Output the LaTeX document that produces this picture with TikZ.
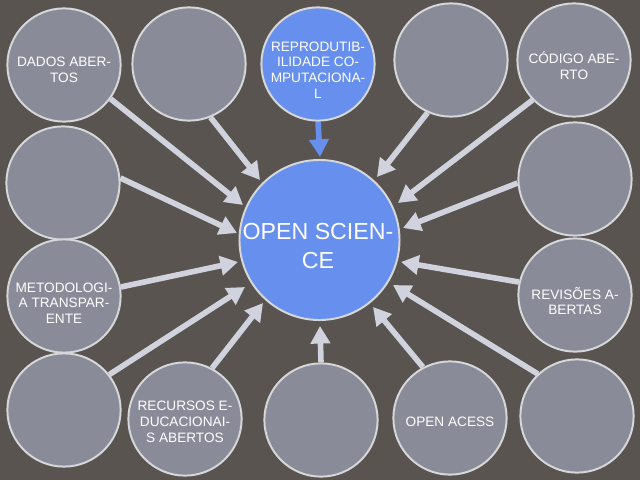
\documentclass[tikz,border=0pt]{standalone}
\usepackage{fontspec}
\setmainfont{Liberation Sans}
\usetikzlibrary{arrows.meta}
\pgfdeclarelayer{canvas}
\pgfdeclarelayer{back}
\pgfsetlayers{canvas,back,main}

\definecolor{bgc}{HTML}{5A5450}
\definecolor{discfill}{HTML}{8A8B99}
\definecolor{rim}{HTML}{D6D7D9}
\definecolor{sky}{HTML}{668FEE}
\definecolor{spoke}{HTML}{D0D3DE}

\begin{document}
\begin{tikzpicture}[x=0.025cm,y=-0.025cm,
  disc/.style={circle,draw=rim,line width=1.4pt,fill=discfill,minimum size=2.83cm,inner sep=0pt},
  hub/.style={disc,fill=sky,minimum size=4.0cm},
  lbl/.style={text=white,align=center,inner sep=0pt,font=\fontsize{9.7}{11.2}\selectfont},
  hublbl/.style={lbl,font=\fontsize{16.5}{20}\selectfont},
  feed/.style={draw=spoke,line width=4pt,-{Triangle[length=12.5pt,width=13.5pt]}},
  bluefeed/.style={feed,draw=sky,fill=sky}
]
  % canvas
  \begin{pgfonlayer}{canvas}
    \fill[bgc] (0,0) rectangle (640,480);
  \end{pgfonlayer}
  \useasboundingbox (0,0) rectangle (640,480);

  % central hub
  \node[hub] (hub) at (319.5,240) {};
  \node[hublbl] (hubT) at (318,246) {OPEN SCIEN-\\CE};

  % surrounding discs
  \node[disc] (dados) at (64,65) {};
  \node[disc] (topB) at (189,64) {};
  \node[disc,fill=sky] (repro) at (318,64) {};
  \node[disc] (topD) at (451,60) {};
  \node[disc] (codigo) at (574,60) {};
  \node[disc] (midL) at (63,183) {};
  \node[disc] (midR) at (575,179) {};
  \node[disc] (metodo) at (64,296) {};
  \node[disc] (revis) at (575,295) {};
  \node[disc] (lowL) at (64,410) {};
  \node[disc] (recursos) at (185,419) {};
  \node[disc] (lowM) at (321,420) {};
  \node[disc] (acess) at (450,418) {};
  \node[disc] (lowR) at (577,416) {};

  % disc captions
  \node[lbl] (dadosT) at (64,70) {DADOS ABER-\\TOS};
  \node[lbl] (reproT) at (318,70) {REPRODUTIB-\\ILIDADE CO-\\MPUTACIONA-\\L};
  \node[lbl] (codigoT) at (574,66) {CÓDIGO ABE-\\RTO};
  \node[lbl] (metodoT) at (64,303) {METODOLOGI-\\A TRANSPAR-\\ENTE};
  \node[lbl] (revisT) at (575,301) {REVISÕES A-\\BERTAS};
  \node[lbl] (recursosT) at (185,422) {RECURSOS E-\\DUCACIONAI-\\S ABERTOS};
  \node[lbl] (acessT) at (450,422) {OPEN ACESS};

  % arrow tips just outside the hub
  \coordinate (t1) at (243,205);
  \coordinate (t2) at (260,180);
  \coordinate (t3) at (320,157);
  \coordinate (t4) at (377,177);
  \coordinate (t5) at (398,203);
  \coordinate (t6) at (237,233);
  \coordinate (t7) at (403,228);
  \coordinate (t8) at (238,262);
  \coordinate (t9) at (401,262);
  \coordinate (t10) at (245,287);
  \coordinate (t11) at (263,303);
  \coordinate (t12) at (320,326);
  \coordinate (t13) at (373,307);
  \coordinate (t14) at (393,285);

  % arrows, kept behind the discs
  \begin{pgfonlayer}{back}
    \draw[feed] (dados.-36) -- (t1);
    \draw[feed] (topB.-68) -- (t2);
    \draw[bluefeed] (repro.-90) -- (t3);
    \draw[feed] (topD.-114) -- (t4);
    \draw[feed] (codigo.-136) -- (t5);
    \draw[feed] (midL.5) -- (t6);
    \draw[feed] (midR.184) -- (t7);
    \draw[feed] (metodo.9) -- (t8);
    \draw[feed] (revis.167) -- (t9);
    \draw[feed] (lowL.38) -- (t10);
    \draw[feed] (recursos.62) -- (t11);
    \draw[feed] (lowM.90) -- (t12);
    \draw[feed] (acess.118) -- (t13);
    \draw[feed] (lowR.133) -- (t14);
  \end{pgfonlayer}
\end{tikzpicture}
\end{document}
